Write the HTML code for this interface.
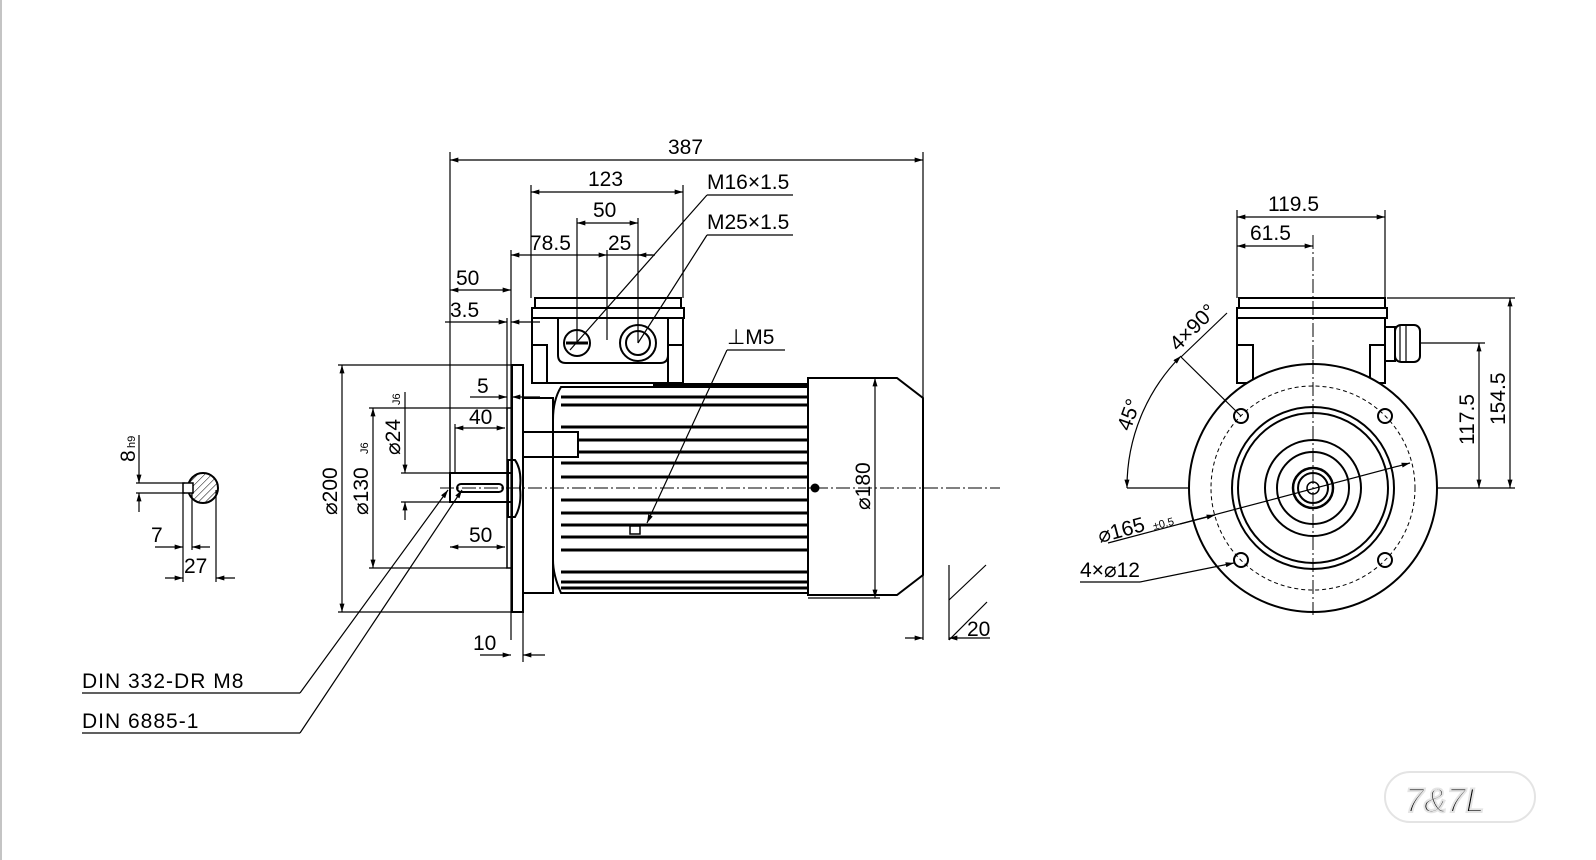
<!DOCTYPE html>
<html><head><meta charset="utf-8"><style>
html,body{margin:0;padding:0;background:#fff;}
svg{display:block;}
text{font-family:"Liberation Sans",sans-serif;fill:#000;}
</style></head><body>
<svg width="1596" height="860" viewBox="0 0 1596 860" xmlns="http://www.w3.org/2000/svg">
<defs>
<marker id="a" viewBox="0 0 10 6" refX="10" refY="3" markerWidth="12" markerHeight="5" orient="auto-start-reverse" markerUnits="userSpaceOnUse"><path d="M0,0L10,3L0,6z" fill="#000"/></marker>
<pattern id="h" width="5" height="5" patternUnits="userSpaceOnUse" patternTransform="rotate(45)"><line x1="0" y1="0" x2="0" y2="5" stroke="#000" stroke-width="1"/></pattern>
</defs>
<line x1="1" y1="0" x2="1" y2="860" stroke="#888" stroke-width="1"/>
<g stroke="#000" fill="none" stroke-width="1.2">
<!-- top dims -->
<line x1="450" y1="160" x2="923" y2="160" marker-start="url(#a)" marker-end="url(#a)"/>
<line x1="450" y1="152" x2="450" y2="500"/>
<line x1="923" y1="152" x2="923" y2="640"/>
<line x1="531" y1="192" x2="683" y2="192" marker-start="url(#a)" marker-end="url(#a)"/>
<line x1="531" y1="185" x2="531" y2="298"/>
<line x1="683" y1="185" x2="683" y2="298"/>
<line x1="577" y1="223" x2="638" y2="223" marker-start="url(#a)" marker-end="url(#a)"/>
<line x1="577" y1="218" x2="577" y2="343"/>
<line x1="638" y1="218" x2="638" y2="343"/>
<line x1="511" y1="255" x2="607" y2="255" marker-start="url(#a)" marker-end="url(#a)"/>
<line x1="607" y1="255" x2="655" y2="255"/>
<line x1="638" y1="255" x2="652" y2="255" marker-start="url(#a)"/>
<line x1="607" y1="250" x2="607" y2="340"/>
<line x1="511" y1="250" x2="511" y2="640"/>
<line x1="450" y1="290" x2="511" y2="290" marker-start="url(#a)" marker-end="url(#a)"/>
<line x1="445" y1="322" x2="507" y2="322" marker-end="url(#a)"/>
<line x1="540" y1="322" x2="511" y2="322" marker-end="url(#a)"/>
<line x1="507" y1="318" x2="507" y2="410"/>
<!-- labels leaders -->
<line x1="707" y1="195" x2="793" y2="195"/>
<line x1="707" y1="195" x2="570" y2="350"/>
<line x1="707" y1="235" x2="793" y2="235"/>
<line x1="707" y1="235" x2="638" y2="343"/>
<line x1="727" y1="350" x2="785" y2="350"/>
<line x1="727" y1="350" x2="647" y2="523" marker-end="url(#a)"/>
<!-- terminal box -->
<rect x="535" y="298" width="146" height="10" stroke-width="2"/>
<rect x="532" y="308" width="152" height="10" stroke-width="2"/>
<path d="M532,318V383H547V345H532M683,318V383H668V345H683" stroke-width="2"/>
<path d="M558,318V355Q558,363 566,363H660Q668,363 668,355V318" stroke-width="2"/>
<line x1="547" y1="383" x2="668" y2="383" stroke-width="2"/>
<circle cx="577" cy="343" r="13" stroke-width="2"/><line x1="566" y1="343" x2="588" y2="343" stroke-width="3"/>
<circle cx="638" cy="343" r="18" stroke-width="2"/><circle cx="638" cy="343" r="12" stroke-width="2"/>
<!-- flange and body -->
<rect x="512" y="365" width="11" height="247" stroke-width="2"/>
<rect x="507" y="408" width="5" height="160" stroke-width="1.5"/>
<path d="M523,398H553V593H523M553,398V593" stroke-width="2"/>
<rect x="523" y="432" width="55" height="25" stroke-width="2"/>
<path d="M561,387H808V593H561Q553,575 553,560V420Q553,400 561,387Z" stroke-width="2"/>
<line x1="653" y1="385" x2="808" y2="385" stroke-width="4"/>
<g stroke-width="3">
<line x1="561" y1="397" x2="808" y2="397"/><line x1="561" y1="405" x2="808" y2="405"/>
<line x1="561" y1="427" x2="808" y2="427"/><line x1="578" y1="440" x2="808" y2="440"/>
<line x1="578" y1="452" x2="808" y2="452"/><line x1="561" y1="463" x2="808" y2="463"/>
<line x1="561" y1="477" x2="808" y2="477"/><line x1="561" y1="500" x2="808" y2="500"/>
<line x1="561" y1="513" x2="808" y2="513"/><line x1="561" y1="525" x2="808" y2="525"/>
<line x1="561" y1="537" x2="808" y2="537"/><line x1="561" y1="550" x2="808" y2="550"/>
<line x1="561" y1="572" x2="808" y2="572"/><line x1="561" y1="582" x2="808" y2="582"/>
<line x1="561" y1="588" x2="808" y2="588"/>
</g>
<rect x="630" y="526" width="10" height="8" stroke-width="1.5"/>
<!-- fan cover -->
<path d="M808,378H897L923,398V575L897,595H808Z" stroke-width="2"/>
<line x1="808" y1="378" x2="880" y2="378" stroke-width="1.2"/>
<line x1="808" y1="598" x2="880" y2="598"/>
<line x1="875" y1="378" x2="875" y2="598" marker-start="url(#a)" marker-end="url(#a)"/>
<!-- shaft -->
<rect x="450" y="473" width="62" height="29" stroke-width="2"/>
<rect x="457" y="484" width="46" height="8" rx="4" stroke-width="2"/>
<path d="M508,460H515Q522,470 520,488Q522,505 515,517H508Z" stroke-width="2"/>
<line x1="440" y1="488" x2="1000" y2="488" stroke-dasharray="14 3 2 3" stroke-width="1"/>
<!-- left dims -->
<line x1="342" y1="365" x2="342" y2="612" marker-start="url(#a)" marker-end="url(#a)"/>
<line x1="338" y1="365" x2="512" y2="365"/><line x1="338" y1="612" x2="512" y2="612"/>
<line x1="373" y1="408" x2="373" y2="568" marker-start="url(#a)" marker-end="url(#a)"/>
<line x1="369" y1="408" x2="507" y2="408"/><line x1="369" y1="568" x2="507" y2="568"/>
<line x1="405" y1="392" x2="405" y2="473" marker-end="url(#a)"/>
<line x1="405" y1="520" x2="405" y2="502" marker-end="url(#a)"/>
<line x1="401" y1="473" x2="450" y2="473"/><line x1="401" y1="502" x2="450" y2="502"/>
<line x1="470" y1="397" x2="507" y2="397" marker-end="url(#a)"/>
<line x1="540" y1="397" x2="512" y2="397" marker-end="url(#a)"/>
<line x1="455" y1="428" x2="505" y2="428" marker-start="url(#a)" marker-end="url(#a)"/>
<line x1="455" y1="424" x2="455" y2="473"/>
<line x1="450" y1="547" x2="505" y2="547" marker-start="url(#a)" marker-end="url(#a)"/>
<line x1="480" y1="655" x2="511" y2="655" marker-end="url(#a)"/>
<line x1="545" y1="655" x2="523" y2="655" marker-end="url(#a)"/>
<line x1="523" y1="612" x2="523" y2="662"/>
<line x1="82" y1="693" x2="300" y2="693"/><line x1="300" y1="693" x2="448" y2="490" marker-end="url(#a)"/>
<line x1="82" y1="733" x2="300" y2="733"/><line x1="300" y1="733" x2="462" y2="490" marker-end="url(#a)"/>
<!-- key section -->
<circle cx="203" cy="488" r="15" fill="url(#h)" stroke-width="2"/>
<rect x="183" y="483" width="10" height="10" fill="#fff" stroke-width="1.5"/>
<line x1="139" y1="435" x2="139" y2="483" marker-end="url(#a)"/>
<line x1="139" y1="512" x2="139" y2="493" marker-end="url(#a)"/>
<line x1="136" y1="483" x2="185" y2="483"/><line x1="136" y1="493" x2="185" y2="493"/>
<line x1="183" y1="493" x2="183" y2="582"/><line x1="192" y1="493" x2="192" y2="550"/><line x1="216" y1="490" x2="216" y2="582"/>
<line x1="155" y1="547" x2="183" y2="547" marker-end="url(#a)"/>
<line x1="210" y1="547" x2="192" y2="547" marker-end="url(#a)"/>
<line x1="165" y1="578" x2="183" y2="578" marker-end="url(#a)"/>
<line x1="235" y1="578" x2="216" y2="578" marker-end="url(#a)"/>
<!-- 20 symbol -->
<line x1="949" y1="565" x2="949" y2="640"/>
<line x1="949" y1="600" x2="986" y2="565"/><line x1="949" y1="640" x2="987" y2="602"/>
<line x1="905" y1="638" x2="923" y2="638" marker-end="url(#a)"/>
<line x1="990" y1="638" x2="949" y2="638" marker-end="url(#a)"/>
<!-- right view -->
<line x1="1313" y1="235" x2="1313" y2="615" stroke-dasharray="14 3 2 3" stroke-width="1"/>
<line x1="1127" y1="488" x2="1515" y2="488"/>
<rect x="1239" y="298" width="146" height="10" stroke-width="2"/>
<rect x="1237" y="308" width="150" height="10" stroke-width="2"/>
<path d="M1237,318V383H1253V345H1237M1385,318V383H1370V345H1385" stroke-width="2"/>
<rect x="1385" y="327" width="10" height="34" stroke-width="2"/>
<rect x="1395" y="325" width="25" height="37" rx="6" stroke-width="2"/>
<line x1="1400" y1="325" x2="1400" y2="362"/><line x1="1406" y1="325" x2="1406" y2="362"/>
<circle cx="1313" cy="488" r="124" fill="#fff" stroke-width="2"/>
<circle cx="1313" cy="488" r="102" stroke-dasharray="4 3" stroke-width="1"/>
<circle cx="1313" cy="488" r="81" stroke-width="2"/>
<circle cx="1313" cy="488" r="75" stroke-width="2"/>
<circle cx="1313" cy="488" r="48" stroke-width="2"/>
<circle cx="1313" cy="488" r="36" stroke-width="2"/>
<circle cx="1313" cy="488" r="20" stroke-width="2.5"/>
<circle cx="1313" cy="488" r="15" stroke-width="2"/>
<circle cx="1313" cy="488" r="6" stroke-width="1.5"/>
<line x1="1313" y1="360" x2="1313" y2="615" stroke-dasharray="14 3 2 3" stroke-width="1"/>
<circle cx="1241" cy="416" r="7" stroke-width="2"/><circle cx="1385" cy="416" r="7" stroke-width="2"/>
<circle cx="1241" cy="560" r="7" stroke-width="2"/><circle cx="1385" cy="560" r="7" stroke-width="2"/>
<line x1="1237" y1="210" x2="1237" y2="298"/><line x1="1385" y1="210" x2="1385" y2="298"/>
<line x1="1237" y1="217" x2="1385" y2="217" marker-start="url(#a)" marker-end="url(#a)"/>
<line x1="1237" y1="246" x2="1313" y2="246" marker-start="url(#a)" marker-end="url(#a)"/>
<line x1="1387" y1="298" x2="1515" y2="298"/><line x1="1420" y1="343" x2="1485" y2="343"/>
<line x1="1479" y1="343" x2="1479" y2="488" marker-start="url(#a)" marker-end="url(#a)"/>
<line x1="1510" y1="298" x2="1510" y2="488" marker-start="url(#a)" marker-end="url(#a)"/>
<path d="M1127,488A186,186 0 0 1 1181,356" marker-start="url(#a)" marker-end="url(#a)"/>
<line x1="1241" y1="416" x2="1181" y2="357"/>
<line x1="1181" y1="357" x2="1227" y2="313"/>
<line x1="1410" y1="463" x2="1108" y2="543" marker-start="url(#a)"/>
<line x1="1180" y1="524" x2="1215" y2="515" marker-end="url(#a)"/>
<line x1="1080" y1="582" x2="1140" y2="582"/><line x1="1140" y1="582" x2="1234" y2="563" marker-end="url(#a)"/>
</g>
<circle cx="815" cy="488" r="4.5" fill="#000"/>
<!-- texts -->
<g font-size="21">
<text x="668" y="154">387</text>
<text x="588" y="186">123</text>
<text x="593" y="217">50</text>
<text x="530" y="250">78.5</text>
<text x="608" y="250">25</text>
<text x="456" y="285">50</text>
<text x="450" y="317">3.5</text>
<text x="707" y="189">M16×1.5</text>
<text x="707" y="229">M25×1.5</text>
<text x="727" y="344">⊥M5</text>
<text x="477" y="393">5</text>
<text x="469" y="424">40</text>
<text x="469" y="542">50</text>
<text x="473" y="650">10</text>
<text x="967" y="636">20</text>
<text x="151" y="542">7</text>
<text x="184" y="573">27</text>
<text x="82" y="688" font-family="Liberation Mono,monospace" letter-spacing="1">DIN 332-DR M8</text>
<text x="82" y="728" font-family="Liberation Mono,monospace" letter-spacing="1">DIN 6885-1</text>
<text x="1268" y="211">119.5</text>
<text x="1250" y="240">61.5</text>
<text x="1080" y="577">4×⌀12</text>
<text transform="translate(337,515) rotate(-90)">⌀200</text>
<text transform="translate(368,515) rotate(-90)">⌀130</text>
<text transform="translate(368,454) rotate(-90)" font-size="11">J6</text>
<text transform="translate(400,455) rotate(-90)">⌀24</text>
<text transform="translate(400,405) rotate(-90)" font-size="11">J6</text>
<text transform="translate(135,462) rotate(-90)">8</text>
<text transform="translate(135,448) rotate(-90)" font-size="11">h9</text>
<text transform="translate(870,510) rotate(-90)">⌀180</text>
<text transform="translate(1474,445) rotate(-90)">117.5</text>
<text transform="translate(1505,425) rotate(-90)">154.5</text>
<text transform="translate(1130,432) rotate(-70)">45°</text>
<text transform="translate(1178,352) rotate(-45)">4×90°</text>
<text transform="translate(1100,543) rotate(-15)">⌀165</text>
<text transform="translate(1154,530) rotate(-15)" font-size="11">±0.5</text>
</g>
<!-- faint logo -->
<g stroke="#e4e4e4" fill="none" stroke-width="2">
<rect x="1385" y="772" width="150" height="50" rx="25"/>
<text x="1405" y="812" font-size="34" fill="none" stroke="#e4e4e4" font-style="italic">7&amp;7L</text>
</g>
</svg>
</body></html>
